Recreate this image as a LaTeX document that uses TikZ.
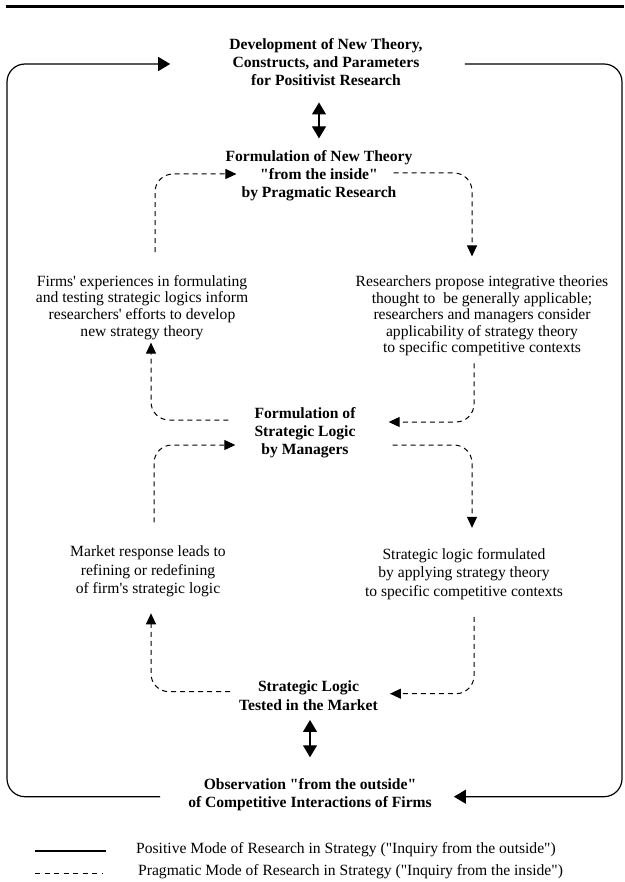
\documentclass[tikz,border=0pt]{standalone}
\usepackage{fontspec}
\setmainfont{Liberation Serif}[Ligatures=TeXOff]
\usetikzlibrary{arrows.meta}

\begin{document}
\begin{tikzpicture}[x=1pt, y=-1pt,
    titlebox/.style={font=\bfseries\fontsize{15.6}{18.2}\selectfont, align=center, inner sep=0pt},
    notebox/.style={font=\fontsize{15.6}{16.6}\selectfont, align=center, inner sep=0pt},
    notebox2/.style={font=\fontsize{15.6}{18.7}\selectfont, align=center, inner sep=0pt},
    legendtext/.style={font=\fontsize{15.6}{18}\selectfont, inner sep=0pt, anchor=west},
    posline/.style={line width=1.2pt, rounded corners=18pt},
    posarr/.style={posline, -{Triangle[length=12pt, width=14pt]}},
    pragline/.style={line width=1pt, dash pattern=on 5pt off 4pt, rounded corners=18pt,
                     -{Triangle[length=11pt, width=10pt]}},
    dblarr/.style={line width=1.2pt, {Triangle[length=12pt, width=14pt]}-{Triangle[length=12pt, width=14pt]}}
]
    \useasboundingbox (0,0) rectangle (624,882);
    \draw[line width=3pt] (6,6.5) -- (624,6.5);

    % Main column
    \node[titlebox] (dev) at (326,62) {Development of New Theory,\\Constructs, and Parameters\\for Positivist Research};
    \node[titlebox] (newtheory) at (319,176) {Formulation of New Theory\\"from the inside"\\by Pragmatic Research};
    \node[titlebox] (logic) at (305,433) {Formulation of\\Strategic Logic\\by Managers};
    \node[titlebox] (tested) at (308.5,695.7) {Strategic Logic\\Tested in the Market};
    \node[titlebox] (obs) at (310,794.7) {Observation "from the outside"\\of Competitive Interactions of Firms};

    % Side notes
    \node[notebox] (firms) at (142,307.3) {Firms' experiences in formulating\\and testing strategic logics inform\\researchers' efforts to develop\\new strategy theory};
    \node[notebox] (propose) at (482,315.9) {Researchers propose integrative theories\\thought to~ be generally applicable;\\researchers and managers consider\\applicability of strategy theory\\to specific competitive contexts};
    \node[notebox2] (market) at (148,571.3) {Market response leads to\\refining or redefining\\of firm's strategic logic};
    \node[notebox2] (applied) at (464,573.9) {Strategic logic formulated\\by applying strategy theory\\to specific competitive contexts};

    % Positive mode loop
    \coordinate (frameL) at (7,0);
    \coordinate (frameR) at (622,0);
    \coordinate (obsL) at ([xshift=-28pt,yshift=-2pt]obs.west);
    \coordinate (devL) at ([xshift=-59pt,yshift=-2pt]dev.west);
    \coordinate (devR) at ([xshift=42pt,yshift=-2pt]dev.east);
    \coordinate (obsR) at ([xshift=22pt,yshift=-2pt]obs.east);
    \draw[posarr] (obsL) -- (obsL -| frameL) |- (devL);
    \draw[posarr] (devR) -- (devR -| frameR) |- (obsR);

    \draw[dblarr] ([xshift=-7pt,yshift=-16.5pt]dev.south) -- ([yshift=12pt]newtheory.north);
    \draw[dblarr] ([xshift=1.5pt,yshift=-9.5pt]tested.south) -- ([yshift=21pt]obs.north);

    % Pragmatic mode, upper loop
    \draw[pragline] ([xshift=13pt,yshift=23pt]firms.north) |- ([xshift=11pt,yshift=2pt]newtheory.west);
    \draw[pragline] ([xshift=-19pt,yshift=3pt]newtheory.east) -| ([xshift=-10pt,yshift=19pt]propose.north);
    \draw[pragline] ([xshift=-8pt,yshift=-7pt]propose.south) |- ([xshift=33pt,yshift=11pt]logic.east);
    \draw[pragline] ([xshift=-26pt,yshift=13pt]logic.west) -| ([xshift=9pt,yshift=-3pt]firms.south);

    % Pragmatic mode, lower loop
    \draw[pragline] ([xshift=37pt,yshift=-12pt]logic.east) -| ([xshift=8pt,yshift=20pt]applied.north);
    \draw[pragline] ([xshift=6pt,yshift=23pt]market.north) |- ([xshift=-19pt,yshift=-12pt]logic.west);
    \draw[pragline] ([xshift=10pt,yshift=-17pt]applied.south) |- ([xshift=12pt,yshift=2pt]tested.east);
    \draw[pragline] ([xshift=-9pt,yshift=4pt]tested.west) -| ([xshift=3pt,yshift=-16pt]market.south);

    % Legend
    \node[legendtext] (legpos) at (136,850) {Positive Mode of Research in Strategy ("Inquiry from the outside")};
    \node[legendtext] (legprag) at (138,872) {Pragmatic Mode of Research in Strategy ("Inquiry from the inside")};
    \draw[line width=1.2pt] ([xshift=-101pt,yshift=-1pt]legpos.west) -- ++(71,0);
    \draw[line width=1pt, dash pattern=on 5pt off 4.5pt] ([xshift=-103pt,yshift=-1pt]legprag.west) -- ++(67,0);
\end{tikzpicture}
\end{document}
